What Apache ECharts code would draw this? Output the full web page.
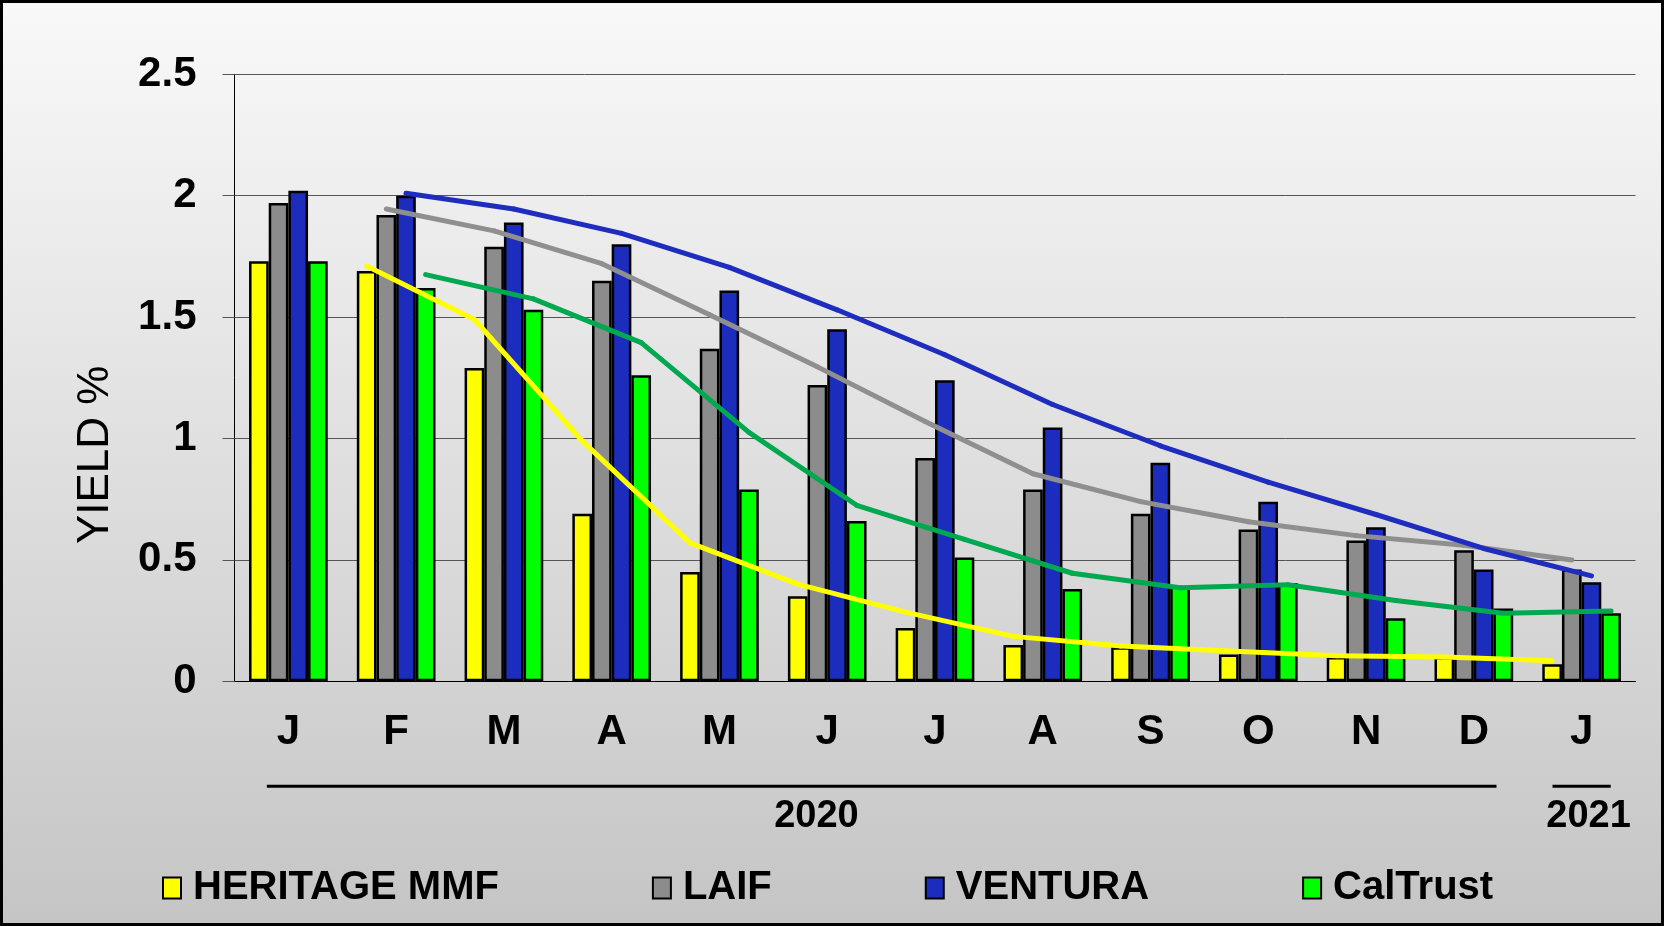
<!DOCTYPE html>
<html>
<head>
<meta charset="utf-8">
<title>Yield comparison</title>
<script src="https://cdn.jsdelivr.net/npm/echarts@6/dist/echarts.min.js"></script>
<style>
  html, body { margin: 0; padding: 0; }
  #chart { width: 1664px; height: 926px; }
</style>
</head>
<body>
<div id="chart"></div>
<script>
var months = ['J', 'F', 'M', 'A', 'M', 'J', 'J', 'A', 'S', 'O', 'N', 'D', 'J'];
var seriesNames = ['HERITAGE MMF', 'LAIF', 'VENTURA', 'CalTrust'];

// monthly yields (%)
var heritage = [1.73, 1.69, 1.29, 0.69, 0.45, 0.35, 0.22, 0.15, 0.14, 0.11, 0.10, 0.10, 0.07];
var laif     = [1.97, 1.92, 1.79, 1.65, 1.37, 1.22, 0.92, 0.79, 0.69, 0.625, 0.58, 0.54, 0.46];
var ventura  = [2.02, 2.00, 1.89, 1.80, 1.61, 1.45, 1.24, 1.045, 0.90, 0.74, 0.634, 0.46, 0.408];
var caltrust = [1.73, 1.62, 1.53, 1.26, 0.79, 0.66, 0.51, 0.38, 0.39, 0.405, 0.26, 0.30, 0.28];

// trend lines drawn over the bars
var heritageTrend = [null, 1.71, 1.49, 0.99, 0.57, 0.40, 0.285, 0.185, 0.145, 0.125, 0.105, 0.10, 0.085];
var laifTrend     = [null, 1.945, 1.855, 1.72, 1.51, 1.295, 1.07, 0.855, 0.74, 0.657, 0.60, 0.56, 0.50];
var venturaTrend  = [null, 2.01, 1.945, 1.845, 1.705, 1.53, 1.345, 1.14, 0.97, 0.82, 0.687, 0.547, 0.434];
var caltrustTrend = [null, 1.675, 1.575, 1.395, 1.025, 0.725, 0.585, 0.445, 0.385, 0.398, 0.333, 0.28, 0.29];

var years = [
  { label: '2020', from: 0, to: 11 },
  { label: '2021', from: 12, to: 12 }
];

var barColors  = ['#ffff00', '#8c8c8c', '#1c2dbd', '#00ff00'];
var lineColors = ['#ffff00', '#8f8f8f', '#1e2dbe', '#00a84f'];
var catGap = 0.27;
var font = '"Liberation Sans", Arial, sans-serif';

function barSeries(name, values, color) {
  return {
    name: name,
    type: 'bar',
    barGap: 0,
    barCategoryGap: (catGap * 100) + '%',
    itemStyle: { color: color, borderColor: '#000', borderWidth: 2.5 },
    data: values
  };
}

function trendSeries(name, values, slot, color) {
  var data = [];
  for (var i = 1; i < values.length; i++) {
    if (values[i] != null && values[i - 1] != null) data.push([i, values[i], values[i - 1]]);
  }
  return {
    name: name + ' trend',
    type: 'custom',
    z: 5,
    silent: true,
    encode: { x: 0, y: 1 },
    renderItem: function (params, api) {
      var band = api.size([1, 0])[0];
      var group = band * (1 - catGap);
      var off = -group / 2 + (slot + 0.5) * group / 4;
      var p0 = api.coord([api.value(0) - 1, api.value(2)]);
      var p1 = api.coord([api.value(0), api.value(1)]);
      return {
        type: 'line',
        shape: { x1: p0[0] + off, y1: p0[1], x2: p1[0] + off, y2: p1[1] },
        style: { stroke: color, lineWidth: 5, lineCap: 'round' }
      };
    },
    data: data
  };
}

var chart = echarts.init(document.getElementById('chart'));

var option = {
  animation: false,
  backgroundColor: new echarts.graphic.LinearGradient(0, 0, 0, 1, [
    { offset: 0, color: '#f9f9f9' },
    { offset: 1, color: '#c5c5c5' }
  ]),
  grid: { left: 234.5, right: 28.5, top: 74.3, bottom: 244.7 },
  legend: {
    data: seriesNames,
    left: 157,
    top: 863,
    icon: 'rect',
    itemWidth: 18,
    itemHeight: 21,
    itemGap: 153,
    textStyle: { fontFamily: font, fontSize: 40, fontWeight: 'bold', color: '#000', padding: [0, 0, 0, 7] }
  },
  xAxis: {
    type: 'category',
    data: months,
    axisLine: { lineStyle: { color: '#000', width: 1 } },
    axisTick: { length: 12, lineStyle: { color: '#777' } },
    axisLabel: { fontFamily: font, fontSize: 42, fontWeight: 'bold', color: '#000', margin: 30 }
  },
  yAxis: {
    type: 'value',
    min: 0,
    max: 2.5,
    interval: 0.5,
    name: 'YIELD %',
    nameLocation: 'middle',
    nameRotate: 90,
    nameGap: 117,
    nameTextStyle: { fontFamily: font, fontSize: 44, color: '#000', padding: [0, 154, 0, 0] },
    axisLine: { show: true, lineStyle: { color: '#000', width: 1 } },
    axisTick: { show: true, length: 12, lineStyle: { color: '#555' } },
    splitLine: { lineStyle: { color: '#555', width: 1 } },
    axisLabel: { fontFamily: font, fontSize: 42, fontWeight: 'bold', color: '#000', margin: 38 }
  },
  series: [
    barSeries(seriesNames[0], heritage, barColors[0]),
    barSeries(seriesNames[1], laif, barColors[1]),
    barSeries(seriesNames[2], ventura, barColors[2]),
    barSeries(seriesNames[3], caltrust, barColors[3]),
    trendSeries(seriesNames[0], heritageTrend, 0, lineColors[0]),
    trendSeries(seriesNames[1], laifTrend, 1, lineColors[1]),
    trendSeries(seriesNames[2], venturaTrend, 2, lineColors[2]),
    trendSeries(seriesNames[3], caltrustTrend, 3, lineColors[3])
  ]
};

chart.setOption(option);

// year brackets under the month labels
function addYears() {
  var c0 = chart.convertToPixel({ xAxisIndex: 0 }, 0);
  var band = chart.convertToPixel({ xAxisIndex: 0 }, 1) - c0;
  var axisY = chart.convertToPixel({ yAxisIndex: 0 }, 0);
  var g = [];
  years.forEach(function (yr, k) {
    var a = chart.convertToPixel({ xAxisIndex: 0 }, yr.from);
    var b = chart.convertToPixel({ xAxisIndex: 0 }, yr.to);
    var x1 = k === 0 ? a - 0.2 * band : a - 0.27 * band;
    var x2 = k === 0 ? b + 0.21 * band : b + 0.27 * band;
    var mid = k === 0 ? chart.convertToPixel({ xAxisIndex: 0 }, 5) - 0.1 * band : a + 0.065 * band;
    g.push({
      type: 'line',
      shape: { x1: x1, y1: axisY + 105, x2: x2, y2: axisY + 105 },
      style: { stroke: '#000', lineWidth: 3 }
    });
    g.push({
      type: 'text',
      x: mid,
      y: axisY + 135,
      style: {
        text: yr.label, fontFamily: font, fontSize: 38, fontWeight: 'bold',
        fill: '#000', align: 'center', verticalAlign: 'middle'
      }
    });
  });
  g.push({
    type: 'rect',
    shape: { x: 1.5, y: 1.5, width: 1661, height: 923 },
    style: { fill: null, stroke: '#000', lineWidth: 3 }
  });
  chart.setOption({ graphic: g });
}
addYears();

window.addEventListener('resize', chart.resize);
</script>
</body>
</html>
